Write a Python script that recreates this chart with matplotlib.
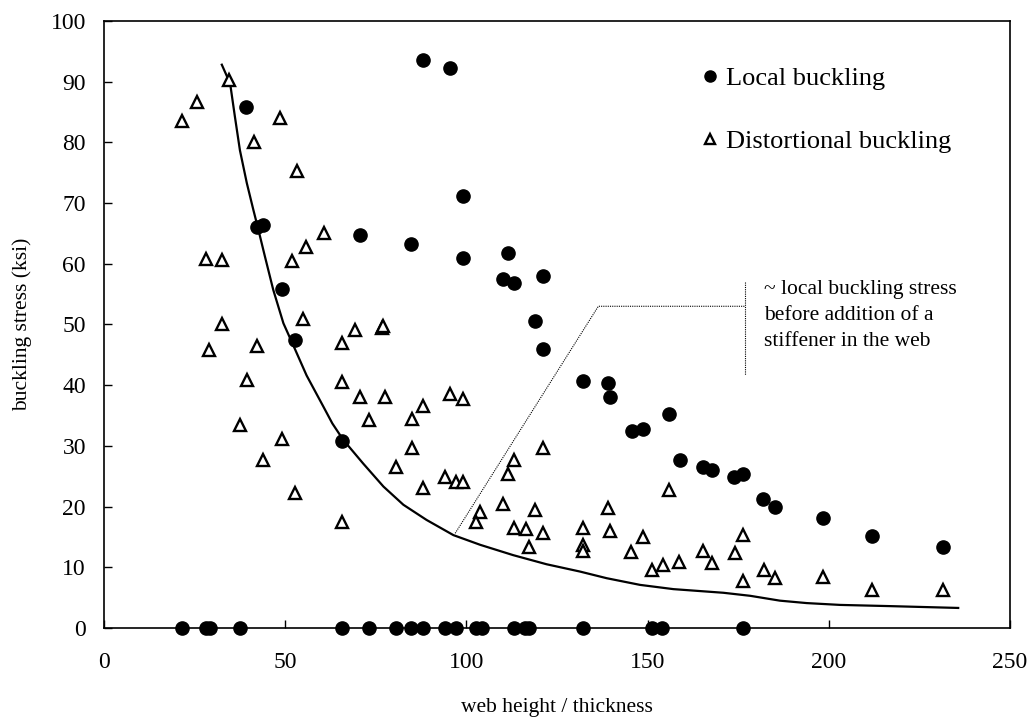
import matplotlib
matplotlib.use("Agg")
import matplotlib.pyplot as plt
from matplotlib.lines import Line2D

plt.rcParams['font.family'] = ['Liberation Serif', 'DejaVu Serif']

# local buckling points (web h/t, stress ksi)
local_x = [88.0, 95.5, 99.0, 70.6, 84.7, 99.0, 111.6, 110.0, 113.1, 121.0, 118.9,
           39.2, 42.1, 43.8, 49.1, 52.7, 121.0, 132.1, 139.2, 139.6, 145.6, 148.8,
           155.9, 158.8, 165.2, 167.7, 173.9, 176.4, 181.9, 185.1, 198.5, 211.8,
           231.6, 65.8]
local_y = [93.6, 92.3, 71.2, 64.7, 63.3, 61.0, 61.7, 57.5, 56.8, 58.0, 50.6,
           85.8, 66.1, 66.4, 55.8, 47.5, 46.0, 40.7, 40.3, 38.1, 32.5, 32.8,
           35.3, 27.7, 26.6, 26.0, 24.9, 25.3, 21.2, 20.0, 18.1, 15.2,
           13.3, 30.8]
# local buckling with zero stress
zero_x = [21.6, 28.1, 29.2, 37.4, 65.8, 73.2, 80.6, 84.7, 87.9, 94.1, 97.0,
          102.6, 104.2, 113.1, 116.2, 117.3, 132.1, 151.3, 154.1, 176.4]
zero_y = [0] * len(zero_x)

# distortional buckling points
dist_x = [34.6, 25.7, 21.6, 48.6, 41.5, 53.2, 60.7, 55.6, 51.9, 28.1, 32.6,
          54.9, 32.6, 29.0, 42.2, 65.8, 39.4, 65.8, 37.4, 49.1, 43.8, 52.6,
          65.8, 69.3, 76.8, 77.0, 70.6, 77.5, 73.2, 84.9, 87.9, 95.6, 99.0,
          84.9, 80.6, 87.9, 94.2, 97.0, 99.1, 103.8, 102.6, 110.0, 113.1,
          111.6, 121.2, 118.9, 113.1, 116.4, 121.0, 117.3, 132.3, 132.3,
          132.3, 139.6, 139.2, 145.4, 155.9, 148.8, 151.3, 154.3, 158.6,
          165.4, 167.7, 174.1, 176.4, 176.4, 182.1, 185.1, 198.5, 211.8, 231.6]
dist_y = [90.3, 86.6, 83.5, 84.1, 80.1, 75.3, 65.0, 62.8, 60.5, 60.8, 60.7,
          50.9, 50.0, 45.8, 46.5, 46.9, 40.8, 40.6, 33.4, 31.2, 27.6, 22.3,
          17.5, 49.1, 49.5, 49.8, 38.0, 38.1, 34.3, 34.4, 36.5, 38.5, 37.8,
          29.6, 26.6, 23.0, 24.8, 24.1, 24.1, 19.1, 17.5, 20.5, 27.7,
          25.3, 29.7, 19.4, 16.5, 16.3, 15.6, 13.4, 16.4, 13.7,
          12.6, 16.0, 19.8, 12.5, 22.7, 15.0, 9.6, 10.3, 10.8,
          12.6, 10.7, 12.4, 15.3, 7.8, 9.6, 8.2, 8.4, 6.3, 6.3]

# fitted curve
curve_x = [32.5, 34.8, 36.1, 37.5, 39.4, 41.2, 42.6, 44.4, 46.7, 49.5, 52.2,
           55.9, 60.5, 63.0, 66.0, 71.5, 77.1, 82.6, 89.0, 96.4, 103.8, 112.9,
           122.1, 131.3, 138.7, 147.9, 157.1, 170.9, 178.3, 186.5, 193.9,
           203.1, 216.9, 235.7]
curve_y = [92.8, 89.7, 84.3, 78.7, 73.3, 68.9, 65.6, 61.2, 55.7, 50.2, 46.6,
           41.6, 36.5, 33.7, 31.0, 27.1, 23.3, 20.3, 17.8, 15.3, 13.7, 12.0,
           10.5, 9.3, 8.2, 7.1, 6.4, 5.8, 5.3, 4.5, 4.1,
           3.8, 3.6, 3.3]

# annotation leader
lead_x = [96.9, 136.4, 176.9]
lead_y = [15.6, 53.0, 53.0]
bar_x = [176.9, 176.9]
bar_y = [57.0, 41.7]

fig = plt.figure(figsize=(10.32, 7.19), dpi=100)
ax = fig.add_axes([0.1008, 0.1266, 0.8779, 0.8442])

ax.plot(curve_x, curve_y, color='black', lw=1.6)
ax.plot(lead_x, lead_y, color='black', lw=0.8, ls=(0, (1, 1)))
ax.plot(bar_x, bar_y, color='black', lw=0.8, ls=(0, (1, 1)))

ax.plot(dist_x, dist_y, ls='none', marker='^', ms=8, mfc='white',
        mec='black', mew=1.7)
ax.plot(local_x, local_y, ls='none', marker='o', ms=9.5, color='black')
ax.plot(zero_x, zero_y, ls='none', marker='o', ms=9.5, color='black',
        clip_on=False, zorder=5)

ax.text(182.1, 57.3, "~ local buckling stress\nbefore addition of a\nstiffener in the web",
        fontsize=15.5, va='top', ha='left', linespacing=1.5)

ax.set_xlim(0, 250)
ax.set_ylim(0, 100)
ax.set_xticks(range(0, 251, 50))
ax.set_yticks(range(0, 101, 10))
ax.tick_params(direction='in', length=6, labelsize=17, width=1)
ax.tick_params(axis='x', pad=17)
ax.tick_params(axis='y', pad=13)
ax.set_xlabel("web height / thickness", fontsize=15.5, labelpad=18)
ax.set_ylabel("buckling stress (ksi)", fontsize=15.5, labelpad=13)
for s in ax.spines.values():
    s.set_linewidth(1.2)

handles = [Line2D([], [], ls='none', marker='o', ms=8, color='black'),
           Line2D([], [], ls='none', marker='^', ms=6.5, mfc='white',
                  mec='black', mew=1.7)]
fig.legend(handles, ["Local buckling", "Distortional buckling"],
           loc='upper left', bbox_to_anchor=(0.657, 0.94), frameon=False,
           fontsize=19, handlelength=0.6, handletextpad=0.3, labelspacing=1.5)

fig.savefig("out.png", dpi=100)
